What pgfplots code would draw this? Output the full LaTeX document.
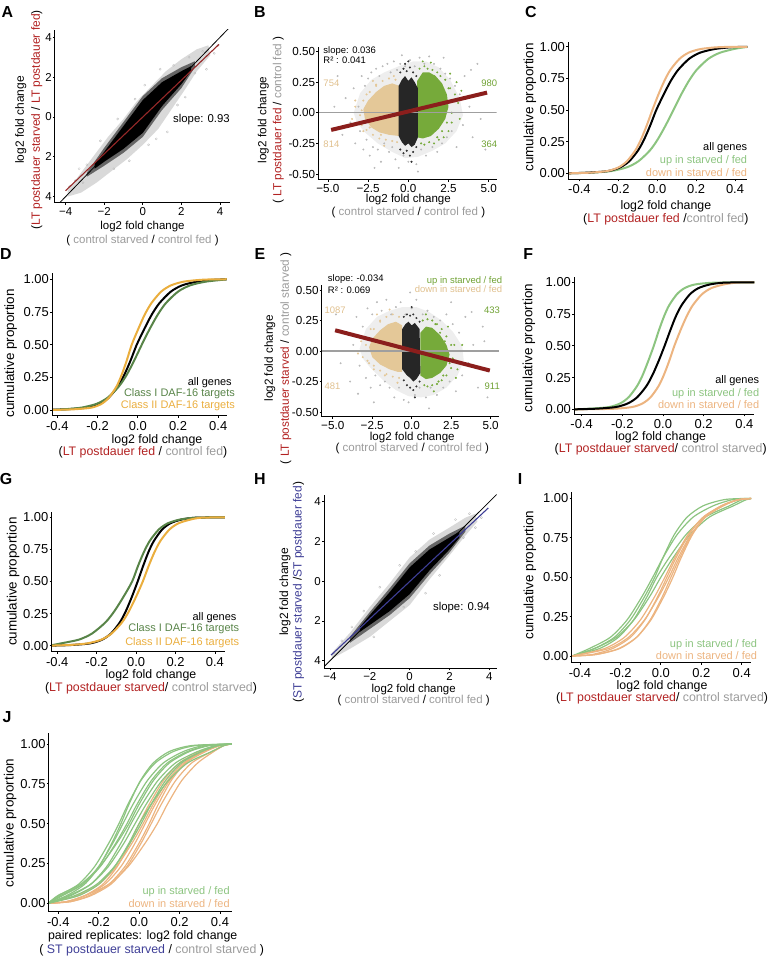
\documentclass[border=0pt]{standalone}
\usepackage{fontspec}
\setmainfont{Liberation Sans}
\usepackage{pgfplots}
\pgfplotsset{compat=1.18}
\definecolor{lpred}{RGB}{178,34,34}
\definecolor{fitred}{RGB}{139,30,28}
\definecolor{upg}{RGB}{140,196,128}
\definecolor{dnt}{RGB}{236,180,128}
\definecolor{upgs}{RGB}{118,170,58}
\definecolor{dnts}{RGB}{228,200,152}
\definecolor{txtg}{RGB}{112,162,52}
\definecolor{txtt}{RGB}{224,192,142}
\definecolor{cls1}{RGB}{88,132,72}
\definecolor{cls2}{RGB}{234,174,62}
\definecolor{stblue}{RGB}{62,62,150}
\definecolor{ctrl}{RGB}{155,155,155}
\tikzset{
 ann/.style={anchor=east, inner sep=0pt, font=\fontsize{11}{11}\selectfont},
 sann/.style={inner sep=0pt, font=\fontsize{9.5}{9.5}\selectfont},
}
\pgfplotsset{
 base/.style={scale only axis, axis lines*=left, axis line style={-, black, line width=1bp},
   tick style={black, line width=0.8bp}, tick align=outside, major tick length=2bp,
   yticklabel style={inner sep=1.2bp},
   clip mode=individual, axis on top, xlabel style={align=center}, ylabel style={align=center}},
 sc/.style={base, xticklabel style={inner sep=2bp}, yticklabel style={inner sep=1bp}},
 cdf/.style={base, ytick={0,0.25,0.5,0.75,1}, yticklabels={0.00,0.25,0.50,0.75,1.00},
   xtick={-0.4,-0.2,0,0.2,0.4}, xticklabels={-0.4,-0.2,0.0,0.2,0.4},
   tick label style={font=\fontsize{13}{13}\selectfont},
   xlabel style={font=\fontsize{12.4}{12.5}\selectfont},
   ylabel style={font=\fontsize{13.5}{14}\selectfont}, ylabel={cumulative proportion}},
 cline/.style={mark=none, smooth, tension=0.45, line width=2bp},
 rline/.style={mark=none, smooth, tension=0.45, line width=1.2bp},
 gpts/.style={only marks, mark=*, mark size=0.75bp, color=gray!55},
 cpts/.style={only marks, mark=*, mark size=0.8bp, color=#1},
 opts/.style={only marks, mark=o, mark size=1.1bp, color=gray!55, line width=0.3bp},
}
\begin{document}
\begin{tikzpicture}
\useasboundingbox (0,0) rectangle (776bp,958bp);
% ---------------- A ----------------
\begin{axis}[sc, at={(55bp,755bp)}, anchor=south west, width=175bp, height=173bp,
 xmin=-4.55, xmax=4.52, ymin=-4.32, ymax=4.37,
 xtick={-4,-2,0,2,4}, xticklabels={−4,−2,0,2,4}, ytick={-4,-2,0,2,4}, yticklabels={4,2,0,2,4},
 tick label style={font=\fontsize{11.5}{11.5}\selectfont},
 xlabel={log2 fold change\\( \textcolor{ctrl}{control starved} / \textcolor{ctrl}{control fed} )},
 xlabel style={font=\fontsize{11.5}{14}\selectfont, at={(axis description cs:0.5,-0.179)}, anchor=center},
 ylabel={log2 fold change\\(\textcolor{lpred}{LT postdauer starved} / \textcolor{lpred}{LT postdauer fed})},
 ylabel style={font=\fontsize{12}{16}\selectfont, at={(axis description cs:-0.15,0.48)}, anchor=center}]
\addplot[fill=gray!30, draw=none] coordinates {(-3.9,-3.7) (-3.2,-2.8) (-2.5,-1.9) (-1.8,-1.0) (-1,-0.1) (-0.3,0.8) (0.5,1.6) (1.2,2.3) (2,2.9) (2.8,3.4) (3.4,3.6) (3.5,3.1) (2.8,2.3) (2.2,1.4) (1.5,0.4) (0.8,-0.6) (0,-1.4) (-0.8,-2.1) (-1.6,-2.7) (-2.4,-3.3) (-3.2,-3.8) (-3.9,-4.0)};
\addplot[opts] coordinates {(-3.8,-3.5) (-3.5,-3.2) (-3.1,-3.3) (-2.9,-2.4) (2.7,2.2) (3.1,3.3) (3.7,3.2) (3.9,3.6) (2.4,3.0) (1.27,-0.75) (0.7,-1.1) (0.3,-1.4) (-0.4,0.9) (-1.3,-0.1) (1.6,2.6) (-2.2,-1.2) (3.3,2.4) (-3.3,-2.6) (0.9,2.4) (2.2,1.0) (1.8,0.6) (-0.7,-2.2) (-1.5,-2.6) (0.1,1.6)};
\addplot[fill=black!60, draw=none] coordinates {(-2.9,-2.8) (-2,-1.55) (-1,-0.25) (0,1.05) (1,1.95) (2,2.5) (2.7,2.8) (2.7,2.5) (2,1.45) (1,0.35) (0,-1.0) (-1,-1.8) (-2,-2.45) (-2.9,-3.0)};
\addplot[fill=black, draw=none] coordinates {(-2.5,-2.35) (-2,-1.75) (-1,-0.45) (0,0.85) (1,1.75) (2,2.3) (2.5,2.55) (2.5,2.3) (2,1.65) (1,0.55) (0,-0.8) (-1,-1.6) (-2,-2.25) (-2.5,-2.6)};
\addplot[black, mark=none, line width=0.8bp] coordinates {(-4.6,-4.6) (4.6,4.6)};
\addplot[color={rgb,255:red,150;green,40;blue,40}, mark=none, line width=1.1bp] coordinates {(-4,-3.7) (3.95,3.65)};
\node[anchor=east, inner sep=0pt, font=\fontsize{11.4}{11.4}\selectfont] at (axis description cs:1.0,0.484) {slope: 0.93};
\end{axis}
% ---------------- B ----------------
\begin{axis}[sc, at={(318.3bp,778bp)}, anchor=south west, width=178.4bp, height=133.3bp,
 xmin=-5.6, xmax=5.5, ymin=-0.549, ymax=0.54,
 xtick={-5,-2.5,0,2.5,5}, xticklabels={−5.0,−2.5,0.0,2.5,5.0},
 ytick={-0.5,-0.25,0,0.25,0.5}, yticklabels={-0.50,-0.25,0.00,0.25,0.50},
 tick label style={font=\fontsize{11.7}{11.7}\selectfont},
 xlabel={log2 fold change\\( \textcolor{ctrl}{control starved} / \textcolor{ctrl}{control fed} )},
 xlabel style={font=\fontsize{11.6}{12.4}\selectfont, at={(axis description cs:0.505,-0.195)}, anchor=center},
 ylabel={log2 fold change\\( \textcolor{lpred}{LT postdauer fed} / \textcolor{ctrl}{control fed} )},
 ylabel style={font=\fontsize{11.8}{15}\selectfont, at={(axis description cs:-0.266,0.45)}, anchor=center}]
\addplot[fill=gray!13, draw=none] coordinates {(-3.4,0.0) (-3.0,0.16) (-2.3,0.27) (-1.5,0.33) (-0.6,0.38) (0.3,0.42) (1.1,0.42) (1.9,0.37) (2.6,0.27) (3.2,0.12) (3.4,-0.02) (3.0,-0.15) (2.3,-0.25) (1.5,-0.31) (0.6,-0.36) (-0.2,-0.37) (-1.0,-0.32) (-1.9,-0.25) (-2.7,-0.16) (-3.2,-0.08)};
\addplot[gpts] coordinates {(-4.6,0.05) (-4.1,-0.18) (-3.9,0.12) (-3.6,-0.08) (-3.4,0.2) (-3.3,-0.25) (-3.1,0.05) (-3.0,-0.15) (-2.9,0.3) (-2.8,-0.3) (-2.7,0.22) (-2.6,-0.22) (-2.5,0.28) (-2.4,-0.35) (-2.3,0.33) (-2.2,-0.28) (-2.0,0.36) (-1.9,-0.3) (-1.8,0.3) (-1.7,-0.4) (-1.6,0.38) (-1.5,-0.25) (-1.3,0.4) (-1.2,-0.32) (-1.1,0.33) (-1.0,-0.28) (-0.9,0.42) (-0.8,-0.38) (-0.7,0.35) (-0.6,-0.45) (-0.5,0.4) (-0.3,-0.35) (-0.2,0.38) (0.0,-0.4) (0.1,0.43) (0.3,-0.32) (0.4,0.38) (0.5,-0.42) (0.7,0.45) (0.8,-0.3) (1.0,0.4) (1.1,-0.35) (1.3,0.46) (1.5,-0.28) (1.6,0.4) (1.8,-0.32) (2.0,0.36) (2.1,-0.25) (2.3,0.32) (2.4,-0.2) (2.6,0.28) (2.7,-0.15) (2.9,0.22) (3.0,-0.28) (3.2,0.15) (3.4,-0.1) (3.5,0.3) (3.8,0.05) (4.0,-0.2) (4.3,0.4) (4.5,-0.05) (4.8,-0.3) (-4.4,0.3) (3.9,0.35) (-0.4,0.47) (0.6,-0.48) (2.2,0.45) (-2.1,-0.45)};
\addplot[cpts=upgs] coordinates {(1.9,0.25) (2.2,0.12) (2.5,0.2) (2.7,0.0) (2.1,-0.15) (1.6,0.3) (2.9,0.15) (3.1,0.08) (2.4,-0.08) (1.8,-0.2) (0.7,0.36) (1.0,0.38) (1.2,0.36) (1.5,0.35) (1.8,0.33) (2.0,0.3) (2.3,0.27) (2.6,0.2) (2.8,0.1) (2.7,-0.08) (2.5,-0.15) (2.2,-0.2) (1.9,-0.22) (1.6,-0.25) (1.3,-0.24) (1.0,-0.26) (0.8,-0.25) (3.0,0.25) (3.3,0.18) (2.6,0.32) (1.4,0.41) (0.9,0.42) (3.2,-0.05)};
\addplot[cpts=dnts] coordinates {(-2.6,0.15) (-2.9,0.02) (-3.1,-0.08) (-2.4,-0.12) (-2.0,0.22) (-1.7,-0.18) (-3.3,0.1) (-2.8,-0.15) (-0.8,0.27) (-1.2,0.28) (-1.6,0.26) (-2.0,0.23) (-2.4,0.17) (-2.8,0.1) (-3.0,-0.02) (-2.9,-0.1) (-2.6,-0.14) (-2.2,-0.18) (-1.8,-0.21) (-1.4,-0.22) (-1.0,-0.23) (-0.7,-0.24) (-3.3,0.05) (-3.5,-0.05) (-2.2,0.26) (-1.5,-0.27) (-0.9,0.3)};
\addplot[fill=dnts, draw=none] coordinates {(-0.55,0.22) (-1.0,0.24) (-1.5,0.22) (-2.0,0.17) (-2.5,0.10) (-2.8,0.03) (-2.7,-0.05) (-2.3,-0.12) (-1.8,-0.16) (-1.2,-0.18) (-0.55,-0.19)};
\addplot[fill=upgs, draw=none] coordinates {(0.55,0.26) (0.9,0.33) (1.3,0.33) (1.7,0.3) (2.1,0.24) (2.4,0.15) (2.5,0.05) (2.3,-0.05) (1.9,-0.13) (1.4,-0.19) (0.9,-0.21) (0.55,-0.2)};
\addplot[cpts=black!80] coordinates {(-0.5,0.33) (-0.3,0.36) (-0.1,0.34) (0.1,0.37) (0.3,0.33) (0.5,0.3) (-0.5,-0.3) (-0.3,-0.33) (-0.1,-0.31) (0.1,-0.35) (0.3,-0.32) (0.5,-0.28) (0.0,0.42) (0.2,-0.4) (-0.2,0.4)};
\addplot[fill=black!85, draw=none] coordinates {(-0.6,0.22) (-0.4,0.27) (-0.2,0.3) (0,0.26) (0.2,0.29) (0.4,0.25) (0.6,0.2) (0.6,-0.2) (0.4,-0.26) (0.2,-0.28) (0,-0.25) (-0.2,-0.27) (-0.4,-0.24) (-0.6,-0.19)};
\addplot[gray!75, mark=none, line width=1.2bp] coordinates {(-5.6,0) (5.5,0)};
\addplot[fitred, mark=none, line width=4bp] coordinates {(-4.8,-0.14) (4.9,0.165)};
\node[sann, anchor=west] at (axis description cs:0.028,0.97) {slope: 0.036};
\node[sann, anchor=west] at (axis description cs:0.028,0.895) {R² : 0.041};
\node[sann, anchor=west, text=txtt] at (axis description cs:0.028,0.725) {754};
\node[sann, anchor=west, text=txtt] at (axis description cs:0.028,0.268) {814};
\node[sann, anchor=east, text=txtg] at (axis description cs:1.003,0.725) {980};
\node[sann, anchor=east, text=txtg] at (axis description cs:1.003,0.268) {364};
\end{axis}
% ---------------- C ----------------
\begin{axis}[cdf, at={(568.3bp,778.7bp)}, anchor=south west, width=179bp, height=137.6bp,
 xmin=-0.457, xmax=0.463, ymin=-0.047, ymax=1.04,
 xlabel={log2 fold change\\(\textcolor{lpred}{LT postdauer fed} /\textcolor{ctrl}{control fed})},
 xlabel style={at={(axis description cs:0.545,-0.245)}, anchor=center},
 ylabel style={at={(axis description cs:-0.214,0.523)}, anchor=center}]
\addplot[cline, upg] coordinates {(-0.46,0) (-0.33,0.006) (-0.237,0.018) (-0.157,0.047) (-0.097,0.095) (-0.037,0.182) (0.003,0.269) (0.043,0.378) (0.083,0.5) (0.123,0.622) (0.163,0.731) (0.203,0.818) (0.263,0.905) (0.323,0.953) (0.403,0.985) (0.47,1)};
\addplot[cline, black] coordinates {(-0.46,0) (-0.35,0.006) (-0.253,0.018) (-0.191,0.047) (-0.144,0.095) (-0.098,0.182) (-0.067,0.269) (-0.036,0.378) (-0.005,0.5) (0.033,0.622) (0.070,0.731) (0.108,0.818) (0.164,0.905) (0.220,0.953) (0.295,0.982) (0.38,0.996) (0.47,1)};
\addplot[cline, dnt] coordinates {(-0.46,0) (-0.35,0.005) (-0.257,0.018) (-0.199,0.047) (-0.156,0.095) (-0.112,0.182) (-0.083,0.269) (-0.054,0.378) (-0.025,0.5) (0.006,0.622) (0.037,0.731) (0.068,0.818) (0.115,0.905) (0.161,0.953) (0.223,0.982) (0.32,0.997) (0.47,1)};
\node[ann] at (axis description cs:1.0,0.233) {all genes};
\node[ann, text=upg] at (axis description cs:1.0,0.133) {up in starved / fed};
\node[ann, text=dnt] at (axis description cs:1.0,0.051) {down in starved / fed};
\end{axis}
% ---------------- D ----------------
\begin{axis}[cdf, at={(52.3bp,542bp)}, anchor=south west, width=174.4bp, height=143.3bp,
 xmin=-0.425, xmax=0.442, ymin=-0.046, ymax=1.05,
 xlabel={\hspace*{28bp}log2 fold change\\(\textcolor{lpred}{LT postdauer fed} /  \textcolor{ctrl}{control fed})},
 xlabel style={at={(axis description cs:0.52,-0.213)}, anchor=center},
 ylabel style={at={(axis description cs:-0.239,0.437)}, anchor=center}]
\addplot[cline, black] coordinates {(-0.46,0) (-0.35,0.006) (-0.253,0.018) (-0.191,0.047) (-0.144,0.095) (-0.098,0.182) (-0.067,0.269) (-0.036,0.378) (-0.005,0.5) (0.033,0.622) (0.070,0.731) (0.108,0.818) (0.164,0.905) (0.220,0.953) (0.295,0.982) (0.38,0.996) (0.47,1)};
\addplot[cline, cls1] coordinates {(-0.43,0) (-0.36,0.006) (-0.28,0.018) (-0.205,0.047) (-0.149,0.095) (-0.093,0.182) (-0.055,0.269) (-0.018,0.378) (0.02,0.5) (0.06,0.622) (0.10,0.731) (0.14,0.818) (0.20,0.905) (0.26,0.953) (0.34,0.982) (0.45,1)};
\addplot[cline, cls2] coordinates {(-0.43,0) (-0.32,0.005) (-0.23,0.018) (-0.18,0.047) (-0.143,0.095) (-0.105,0.182) (-0.08,0.269) (-0.055,0.378) (-0.03,0.5) (0.003,0.622) (0.035,0.731) (0.068,0.818) (0.116,0.905) (0.165,0.953) (0.23,0.982) (0.33,0.997) (0.45,1)};
\node[ann] at (axis description cs:1.03,0.232) {all genes};
\node[ann, text=cls1] at (axis description cs:1.048,0.154) {Class I DAF-16 targets};
\node[ann, text=cls2] at (axis description cs:1.048,0.072) {Class II DAF-16 targets};
\end{axis}
% ---------------- E ----------------
\begin{axis}[sc, at={(321.7bp,541.3bp)}, anchor=south west, width=177.6bp, height=131.7bp,
 xmin=-5.7, xmax=5.55, ymin=-0.538, ymax=0.541,
 xtick={-5,-2.5,0,2.5,5}, xticklabels={−5.0,−2.5,0.0,2.5,5.0},
 ytick={-0.5,-0.25,0,0.25,0.5}, yticklabels={-0.50,-0.25,0.00,0.25,0.50},
 tick label style={font=\fontsize{11.7}{11.7}\selectfont},
 xlabel={log2 fold change\\( \textcolor{ctrl}{control starved} / \textcolor{ctrl}{control fed} )},
 xlabel style={font=\fontsize{11.6}{11.8}\selectfont, at={(axis description cs:0.51,-0.2)}, anchor=center},
 ylabel={log2 fold change\\( \textcolor{lpred}{LT postdauer starved} / \textcolor{ctrl}{control starved} )},
 ylabel style={font=\fontsize{11.8}{16}\selectfont, at={(axis description cs:-0.247,0.443)}, anchor=center}]
\addplot[fill=gray!13, draw=none] coordinates {(-3.3,0.02) (-2.9,0.18) (-2.2,0.28) (-1.4,0.33) (-0.6,0.36) (0.3,0.36) (1.1,0.32) (1.9,0.25) (2.6,0.16) (3.2,0.04) (3.3,-0.08) (2.9,-0.2) (2.2,-0.3) (1.4,-0.36) (0.6,-0.38) (-0.2,-0.37) (-1.0,-0.32) (-1.8,-0.24) (-2.6,-0.14) (-3.1,-0.06)};
\addplot[gpts] coordinates {(-4.8,0.3) (-4.5,-0.1) (-4.2,0.15) (-3.9,-0.25) (-3.7,0.05) (-3.5,0.28) (-3.3,-0.12) (-3.1,0.2) (-2.9,-0.22) (-2.8,0.35) (-2.6,-0.3) (-2.5,0.3) (-2.3,-0.2) (-2.2,0.4) (-2.0,-0.28) (-1.9,0.33) (-1.7,-0.25) (-1.6,0.42) (-1.4,-0.3) (-1.3,0.3) (-1.1,-0.38) (-1.0,0.36) (-0.8,-0.3) (-0.7,0.4) (-0.5,-0.4) (-0.4,0.3) (-0.2,-0.42) (0.0,0.35) (0.2,-0.36) (0.3,0.42) (0.5,-0.3) (0.7,0.3) (0.9,-0.38) (1.0,0.33) (1.2,-0.3) (1.4,0.28) (1.6,-0.36) (1.8,0.25) (2.0,-0.3) (2.2,0.3) (2.4,-0.25) (2.6,0.22) (2.8,-0.33) (3.0,0.15) (3.2,-0.2) (3.4,0.28) (3.6,-0.1) (3.9,0.05) (4.2,-0.3) (4.5,0.2) (4.8,-0.38) (4.6,0.08) (-0.1,0.48) (1.1,-0.47) (2.5,0.4) (-2.4,-0.42) (3.8,0.32) (-3.4,-0.35)};
\addplot[cpts=upgs] coordinates {(1.8,0.15) (2.1,0.08) (2.4,-0.1) (2.7,0.05) (2.0,-0.2) (1.5,0.22) (2.9,-0.15) (3.1,0.0) (2.3,0.2) (1.7,-0.25) (0.7,0.25) (1.0,0.26) (1.3,0.25) (1.6,0.22) (1.9,0.18) (2.2,0.12) (2.5,0.05) (2.6,-0.06) (2.5,-0.14) (2.2,-0.2) (1.9,-0.24) (1.6,-0.27) (1.3,-0.28) (1.0,-0.29) (0.8,-0.28) (3.0,-0.1) (3.2,0.05) (2.8,-0.22) (1.4,-0.33) (0.9,0.3)};
\addplot[cpts=dnts] coordinates {(-2.6,0.18) (-2.9,0.05) (-3.1,-0.05) (-2.4,-0.15) (-2.0,0.25) (-1.7,-0.2) (-3.3,0.12) (-2.7,-0.1) (-0.8,0.28) (-1.2,0.3) (-1.6,0.28) (-2.0,0.24) (-2.4,0.18) (-2.8,0.1) (-2.9,0.0) (-2.8,-0.08) (-2.4,-0.12) (-2.0,-0.16) (-1.6,-0.19) (-1.2,-0.21) (-0.8,-0.22) (-3.2,0.08) (-3.4,-0.02) (-2.2,0.3) (-1.4,0.34) (-0.9,-0.26)};
\addplot[fill=dnts, draw=none] coordinates {(-0.6,0.21) (-1.0,0.24) (-1.5,0.22) (-2.0,0.17) (-2.5,0.10) (-2.7,0.03) (-2.5,-0.05) (-2.0,-0.11) (-1.4,-0.15) (-0.9,-0.17) (-0.6,-0.17)};
\addplot[fill=upgs, draw=none] coordinates {(0.55,0.15) (0.9,0.2) (1.3,0.19) (1.8,0.13) (2.2,0.05) (2.4,-0.03) (2.2,-0.12) (1.8,-0.18) (1.3,-0.22) (0.9,-0.23) (0.55,-0.2)};
\addplot[cpts=black!80] coordinates {(-0.5,0.28) (-0.3,0.3) (-0.1,0.29) (0.1,0.3) (0.3,0.27) (0.5,0.24) (-0.5,-0.24) (-0.3,-0.28) (-0.1,-0.3) (0.1,-0.32) (0.3,-0.29) (0.5,-0.25) (0.0,0.36) (0.2,-0.38)};
\addplot[fill=black!85, draw=none] coordinates {(-0.6,0.18) (-0.4,0.22) (-0.2,0.24) (0,0.21) (0.2,0.23) (0.5,0.18) (0.55,-0.18) (0.3,-0.23) (0.1,-0.25) (-0.1,-0.22) (-0.3,-0.2) (-0.6,-0.15)};
\addplot[gray!75, mark=none, line width=1.2bp] coordinates {(-5.7,0) (5.55,0)};
\addplot[fitred, mark=none, line width=4bp] coordinates {(-4.85,0.17) (4.95,-0.16)};
\node[sann, anchor=west] at (axis description cs:0.034,1.044) {slope: -0.034};
\node[sann, anchor=west] at (axis description cs:0.034,0.957) {R² : 0.069};
\node[sann, anchor=east, text=txtg] at (axis description cs:1.017,1.033) {up in starved / fed};
\node[sann, anchor=east, text=txtt] at (axis description cs:1.017,0.967) {down in starved / fed};
\node[sann, anchor=west, text=txtt] at (axis description cs:0.015,0.81) {1087};
\node[sann, anchor=east, text=txtg] at (axis description cs:1.004,0.81) {433};
\node[sann, anchor=west, text=txtt] at (axis description cs:0.015,0.235) {481};
\node[sann, anchor=east, text=txtg] at (axis description cs:1.004,0.235) {911};
\end{axis}
% ---------------- F ----------------
\begin{axis}[cdf, at={(574.3bp,543.7bp)}, anchor=south west, width=180bp, height=137.6bp,
 xmin=-0.436, xmax=0.449, ymin=-0.039, ymax=1.044,
 xlabel={log2 fold change\\(\textcolor{lpred}{LT postdauer starved}/ \textcolor{ctrl}{control starved})},
 xlabel style={at={(axis description cs:0.48,-0.211)}, anchor=center},
 ylabel style={at={(axis description cs:-0.252,0.48)}, anchor=center}]
\addplot[cline, upg] coordinates {(-0.44,0) (-0.36,0.005) (-0.265,0.018) (-0.21,0.047) (-0.169,0.095) (-0.128,0.182) (-0.10,0.269) (-0.073,0.378) (-0.045,0.5) (-0.02,0.622) (0.005,0.731) (0.03,0.818) (0.068,0.905) (0.105,0.953) (0.155,0.982) (0.25,0.997) (0.45,1)};
\addplot[cline, dnt] coordinates {(-0.44,0) (-0.25,0.004) (-0.152,0.018) (-0.10,0.047) (-0.061,0.095) (-0.022,0.182) (0.004,0.269) (0.03,0.378) (0.056,0.5) (0.086,0.622) (0.116,0.731) (0.146,0.818) (0.191,0.905) (0.236,0.953) (0.296,0.982) (0.36,0.997) (0.45,1)};
\addplot[cline, black] coordinates {(-0.44,0) (-0.33,0.005) (-0.232,0.018) (-0.172,0.047) (-0.127,0.095) (-0.082,0.182) (-0.052,0.269) (-0.022,0.378) (0.008,0.5) (0.036,0.622) (0.063,0.731) (0.091,0.818) (0.132,0.905) (0.173,0.953) (0.228,0.982) (0.30,0.997) (0.45,1)};
\node[ann] at (axis description cs:1.028,0.244) {all genes};
\node[ann, text=upg] at (axis description cs:1.028,0.153) {up in starved / fed};
\node[ann, text=dnt] at (axis description cs:1.028,0.068) {down in starved / fed};
\end{axis}
% ---------------- G ----------------
\begin{axis}[cdf, at={(51.7bp,306.3bp)}, anchor=south west, width=173.3bp, height=140bp,
 xmin=-0.428, xmax=0.451, ymin=-0.047, ymax=1.044,
 xlabel={log2 fold change\\(\textcolor{lpred}{LT postdauer starved}/ \textcolor{ctrl}{control starved})},
 xlabel style={at={(axis description cs:0.573,-0.214)}, anchor=center},
 ylabel style={at={(axis description cs:-0.222,0.5)}, anchor=center}]
\addplot[cline, black] coordinates {(-0.44,0) (-0.33,0.005) (-0.232,0.018) (-0.172,0.047) (-0.127,0.095) (-0.082,0.182) (-0.052,0.269) (-0.022,0.378) (0.008,0.5) (0.036,0.622) (0.063,0.731) (0.091,0.818) (0.132,0.905) (0.173,0.953) (0.228,0.982) (0.30,0.997) (0.45,1)};
\addplot[cline, cls1] coordinates {(-0.44,0) (-0.38,0.018) (-0.29,0.047) (-0.223,0.095) (-0.155,0.182) (-0.11,0.269) (-0.065,0.378) (-0.02,0.5) (0.01,0.622) (0.04,0.731) (0.07,0.818) (0.115,0.905) (0.16,0.953) (0.22,0.982) (0.30,0.997) (0.45,1)};
\addplot[cline, cls2] coordinates {(-0.44,0) (-0.33,0.006) (-0.246,0.018) (-0.176,0.047) (-0.124,0.095) (-0.071,0.182) (-0.036,0.269) (-0.001,0.378) (0.034,0.5) (0.064,0.622) (0.094,0.731) (0.124,0.818) (0.169,0.905) (0.214,0.953) (0.274,0.982) (0.33,0.997) (0.45,1)};
\node[ann] at (axis description cs:1.067,0.246) {all genes};
\node[ann, text=cls1] at (axis description cs:1.083,0.162) {Class I DAF-16 targets};
\node[ann, text=cls2] at (axis description cs:1.083,0.067) {Class II DAF-16 targets};
\end{axis}
% ---------------- H ----------------
\begin{axis}[sc, at={(324bp,289.7bp)}, anchor=south west, width=172.7bp, height=173.3bp,
 xmin=-4.3, xmax=4.37, ymin=-4.38, ymax=4.34,
 xtick={-4,-2,0,2,4}, xticklabels={−4,−2,0,2,4}, ytick={-4,-2,0,2,4}, yticklabels={4,2,0,2,4},
 tick label style={font=\fontsize{11.5}{11.5}\selectfont},
 xlabel={log2 fold change\\( \textcolor{ctrl}{control starved} / \textcolor{ctrl}{control fed} )},
 xlabel style={font=\fontsize{11.5}{11.5}\selectfont, at={(axis description cs:0.519,-0.154)}, anchor=center},
 ylabel={log2 fold change\\(\textcolor{stblue}{ST postdauer starved} /\textcolor{stblue}{ST postdauer fed})},
 ylabel style={font=\fontsize{12}{13.5}\selectfont, at={(axis description cs:-0.187,0.44)}, anchor=center}]
\addplot[fill=gray!30, draw=none] coordinates {(-3.9,-3.6) (-3,-2.6) (-2,-1.3) (-1,-0.1) (0,1.2) (1,2.1) (2,2.7) (2.8,3.2) (3.3,3.4) (3.4,3.0) (2.8,2.3) (2,1.3) (1,0.1) (0,-1.2) (-1,-2.0) (-2,-2.8) (-3,-3.4) (-3.9,-3.9)};
\addplot[opts] coordinates {(-3.8,-3.6) (-3.4,-3.0) (-2.9,-2.3) (3.0,3.4) (3.6,3.2) (2.7,2.2) (1.5,0.3) (0.8,-0.6) (-0.5,0.8) (-1.5,-0.3) (1.2,2.4) (-2.3,-1.5) (3.3,2.7) (0.3,1.5) (-0.3,-1.3) (2.3,3.1) (-1.8,-2.8)};
\addplot[fill=black!60, draw=none] coordinates {(-3,-2.8) (-2,-1.55) (-1,-0.35) (0,0.9) (1,1.8) (2,2.4) (2.8,2.8) (2.8,2.5) (2,1.45) (1,0.35) (0,-0.85) (-1,-1.7) (-2,-2.4) (-3,-3.1)};
\addplot[fill=black, draw=none] coordinates {(-2.5,-2.3) (-2,-1.7) (-1,-0.55) (0,0.7) (1,1.6) (2,2.2) (2.5,2.5) (2.5,2.2) (2,1.6) (1,0.55) (0,-0.65) (-1,-1.5) (-2,-2.2) (-2.5,-2.55)};
\addplot[black, mark=none, line width=0.8bp] coordinates {(-4.6,-4.6) (4.6,4.6)};
\addplot[stblue, mark=none, line width=1.1bp] coordinates {(-3.95,-3.72) (3.95,3.69)};
\node[anchor=east, inner sep=0pt, font=\fontsize{11.4}{11.4}\selectfont] at (axis description cs:0.961,0.35) {slope: 0.94};
\end{axis}
% ---------------- I ----------------
\begin{axis}[cdf, at={(571.7bp,295.3bp)}, anchor=south west, width=179.3bp, height=171bp,
 xmin=-0.441, xmax=0.446, ymin=-0.042, ymax=1.042,
 xlabel={log2 fold change\\(\textcolor{lpred}{LT postdauer starved}/ \textcolor{ctrl}{control starved})},
 xlabel style={at={(axis description cs:0.504,-0.174)}, anchor=center},
 ylabel style={at={(axis description cs:-0.233,0.513)}, anchor=center}]
\addplot[rline, upg] coordinates {(-0.44,0) (-0.33,0.047) (-0.23,0.119) (-0.15,0.231) (-0.08,0.378) (-0.03,0.5) (0.01,0.622) (0.066,0.769) (0.13,0.881) (0.21,0.953) (0.32,0.993) (0.46,1)};
\addplot[rline, upg] coordinates {(-0.44,0) (-0.305,0.047) (-0.21,0.119) (-0.134,0.231) (-0.068,0.378) (-0.02,0.5) (0.04,0.622) (0.124,0.769) (0.22,0.881) (0.34,0.953) (0.40,0.99) (0.46,1)};
\addplot[rline, upg] coordinates {(-0.44,0) (-0.355,0.047) (-0.25,0.119) (-0.166,0.231) (-0.093,0.378) (-0.04,0.5) (0.01,0.622) (0.08,0.769) (0.16,0.881) (0.26,0.953) (0.36,0.993) (0.46,1)};
\addplot[rline, upg] coordinates {(-0.44,0) (-0.33,0.047) (-0.22,0.119) (-0.132,0.231) (-0.055,0.378) (0.0,0.5) (0.06,0.622) (0.144,0.769) (0.24,0.881) (0.36,0.953) (0.42,0.99) (0.46,1)};
\addplot[rline, dnt] coordinates {(-0.44,0) (-0.34,0.01) (-0.24,0.047) (-0.15,0.119) (-0.078,0.231) (-0.015,0.378) (0.03,0.5) (0.075,0.622) (0.138,0.769) (0.21,0.881) (0.30,0.953) (0.38,0.99) (0.46,1)};
\addplot[rline, dnt] coordinates {(-0.44,0) (-0.32,0.01) (-0.205,0.047) (-0.12,0.119) (-0.052,0.231) (0.008,0.378) (0.05,0.5) (0.093,0.622) (0.152,0.769) (0.22,0.881) (0.305,0.953) (0.38,0.99) (0.46,1)};
\addplot[rline, dnt] coordinates {(-0.44,0) (-0.26,0.047) (-0.16,0.119) (-0.08,0.231) (-0.01,0.378) (0.04,0.5) (0.085,0.622) (0.148,0.769) (0.22,0.881) (0.31,0.953) (0.38,0.99) (0.46,1)};
\addplot[rline, dnt] coordinates {(-0.44,0) (-0.32,0.01) (-0.21,0.047) (-0.12,0.119) (-0.048,0.231) (0.015,0.378) (0.06,0.5) (0.10,0.622) (0.156,0.769) (0.22,0.881) (0.30,0.953) (0.38,0.99) (0.46,1)};
\addplot[rline, dnt] coordinates {(-0.44,0) (-0.28,0.047) (-0.18,0.119) (-0.10,0.231) (-0.03,0.378) (0.02,0.5) (0.068,0.622) (0.134,0.769) (0.21,0.881) (0.305,0.953) (0.38,0.99) (0.46,1)};
\node[ann, text=upg] at (axis description cs:1.035,0.108) {up in starved / fed};
\node[ann, text=dnt] at (axis description cs:1.035,0.039) {down in starved / fed};
\end{axis}
% ---------------- J ----------------
\begin{axis}[cdf, at={(49bp,46.3bp)}, anchor=south west, width=182.7bp, height=178.4bp,
 xmin=-0.446, xmax=0.458, ymin=-0.053, ymax=1.067,
 xlabel={paired replicates: log2 fold change\hspace*{18bp}\\( \textcolor{stblue}{ST postdauer starved} / \textcolor{ctrl}{control starved} )},
 xlabel style={font=\fontsize{12.4}{13.3}\selectfont, at={(axis description cs:0.562,-0.177)}, anchor=center},
 ylabel style={at={(axis description cs:-0.213,0.496)}, anchor=center}]
\addplot[rline, dnt] coordinates {(-0.45,0) (-0.36,0.01) (-0.27,0.047) (-0.18,0.119) (-0.108,0.231) (-0.045,0.378) (0.0,0.5) (0.05,0.622) (0.12,0.769) (0.20,0.881) (0.30,0.953) (0.39,0.99) (0.46,1)};
\addplot[rline, dnt] coordinates {(-0.45,0) (-0.36,0.01) (-0.27,0.047) (-0.17,0.119) (-0.09,0.231) (-0.02,0.378) (0.03,0.5) (0.08,0.622) (0.15,0.769) (0.23,0.881) (0.33,0.953) (0.40,0.99) (0.46,1)};
\addplot[rline, dnt] coordinates {(-0.45,0) (-0.34,0.01) (-0.25,0.047) (-0.15,0.119) (-0.07,0.231) (0.0,0.378) (0.05,0.5) (0.095,0.622) (0.158,0.769) (0.23,0.881) (0.32,0.953) (0.40,0.99) (0.46,1)};
\addplot[rline, dnt] coordinates {(-0.45,0) (-0.36,0.01) (-0.27,0.047) (-0.15,0.119) (-0.054,0.231) (0.03,0.378) (0.09,0.5) (0.14,0.622) (0.21,0.769) (0.29,0.881) (0.37,0.953) (0.42,0.99) (0.46,1)};
\addplot[rline, dnt] coordinates {(-0.45,0) (-0.31,0.047) (-0.20,0.119) (-0.112,0.231) (-0.035,0.378) (0.02,0.5) (0.07,0.622) (0.14,0.769) (0.22,0.881) (0.32,0.953) (0.40,0.99) (0.46,1)};
\addplot[rline, dnt] coordinates {(-0.45,0) (-0.34,0.01) (-0.24,0.047) (-0.14,0.119) (-0.06,0.231) (0.01,0.378) (0.06,0.5) (0.11,0.622) (0.18,0.769) (0.26,0.881) (0.36,0.953) (0.42,0.99) (0.46,1)};
\addplot[rline, upg] coordinates {(-0.45,0) (-0.40,0.047) (-0.30,0.119) (-0.22,0.231) (-0.15,0.378) (-0.10,0.5) (-0.055,0.622) (0.008,0.769) (0.08,0.881) (0.17,0.953) (0.28,0.99) (0.46,1)};
\addplot[rline, upg] coordinates {(-0.45,0) (-0.38,0.047) (-0.28,0.119) (-0.20,0.231) (-0.13,0.378) (-0.08,0.5) (-0.03,0.622) (0.04,0.769) (0.12,0.881) (0.22,0.953) (0.32,0.99) (0.46,1)};
\addplot[rline, upg] coordinates {(-0.45,0) (-0.39,0.047) (-0.28,0.119) (-0.192,0.231) (-0.115,0.378) (-0.06,0.5) (-0.01,0.622) (0.06,0.769) (0.14,0.881) (0.24,0.953) (0.34,0.99) (0.46,1)};
\addplot[rline, upg] coordinates {(-0.45,0) (-0.34,0.047) (-0.24,0.119) (-0.16,0.231) (-0.09,0.378) (-0.04,0.5) (0.015,0.622) (0.092,0.769) (0.18,0.881) (0.29,0.953) (0.38,0.99) (0.46,1)};
\addplot[rline, upg] coordinates {(-0.45,0) (-0.35,0.047) (-0.24,0.119) (-0.152,0.231) (-0.075,0.378) (-0.02,0.5) (0.035,0.622) (0.112,0.769) (0.20,0.881) (0.31,0.953) (0.39,0.99) (0.46,1)};
\addplot[rline, upg] coordinates {(-0.45,0) (-0.40,0.05) (-0.29,0.119) (-0.194,0.231) (-0.11,0.378) (-0.05,0.5) (0.0,0.622) (0.07,0.769) (0.15,0.881) (0.25,0.953) (0.35,0.99) (0.46,1)};
\addplot[rline, upg] coordinates {(-0.45,0) (-0.30,0.047) (-0.20,0.119) (-0.12,0.231) (-0.05,0.378) (0.0,0.5) (0.06,0.622) (0.144,0.769) (0.24,0.881) (0.36,0.953) (0.42,0.99) (0.46,1)};
\addplot[rline, upg] coordinates {(-0.45,0) (-0.36,0.047) (-0.27,0.119) (-0.198,0.231) (-0.135,0.378) (-0.09,0.5) (-0.05,0.622) (0.006,0.769) (0.07,0.881) (0.15,0.953) (0.26,0.99) (0.46,1)};
\addplot[rline, upg] coordinates {(-0.45,0) (-0.32,0.047) (-0.21,0.119) (-0.122,0.231) (-0.045,0.378) (0.01,0.5) (0.06,0.622) (0.13,0.769) (0.21,0.881) (0.31,0.953) (0.39,0.99) (0.46,1)};
\node[ann, text=upg] at (axis description cs:0.99,0.112) {up in starved / fed};
\node[ann, text=dnt] at (axis description cs:0.99,0.047) {down in starved / fed};
\end{axis}
% ---------------- panel letters ----------------
\begin{scope}[every node/.style={font=\bfseries\fontsize{16}{16}\selectfont, inner sep=0pt}]
\node at (7.5bp,945.5bp) {A};
\node at (260bp,945.5bp) {B};
\node at (530.8bp,946bp) {C};
\node at (6bp,704bp) {D};
\node at (260bp,704bp) {E};
\node at (528.3bp,704bp) {F};
\node at (6bp,479bp) {G};
\node at (260bp,479bp) {H};
\node at (520bp,479bp) {I};
\node at (7bp,241bp) {J};
\end{scope}
\end{tikzpicture}
\end{document}
